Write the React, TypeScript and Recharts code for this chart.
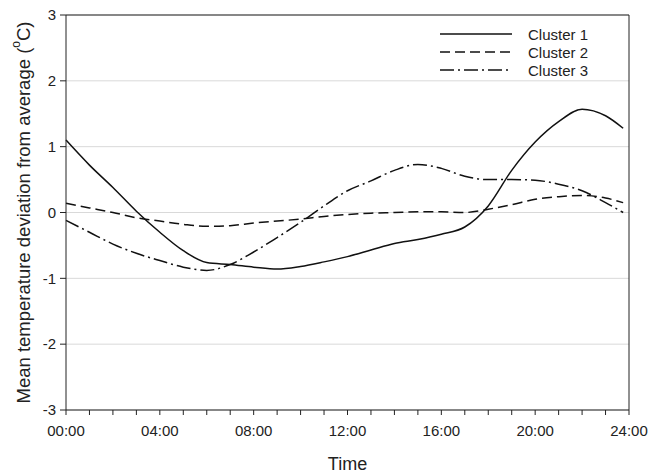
import {
  CartesianGrid,
  Legend,
  Line,
  LineChart,
  ReferenceLine,
  XAxis,
  YAxis,
} from "recharts";

const hours = [0, 1, 2, 3, 4, 5, 6, 7, 8, 9, 10, 11, 12, 13, 14, 15, 16, 17, 18, 19, 20, 21, 22, 23, 23.75];

const cluster1 = [
  1.1, 0.72, 0.38, 0.02, -0.3, -0.58, -0.76, -0.79, -0.83, -0.86, -0.82, -0.75, -0.67,
  -0.57, -0.47, -0.41, -0.33, -0.22, 0.1, 0.64, 1.07, 1.38, 1.57, 1.47, 1.28,
];
const cluster2 = [
  0.14, 0.07, 0.0, -0.08, -0.13, -0.18, -0.21, -0.2, -0.16, -0.13, -0.1, -0.06, -0.03,
  -0.01, 0.0, 0.01, 0.01, 0.0, 0.05, 0.12, 0.2, 0.24, 0.26, 0.22, 0.15,
];
const cluster3 = [
  -0.12, -0.3, -0.48, -0.62, -0.73, -0.83, -0.88, -0.79, -0.6, -0.38, -0.15, 0.1, 0.33,
  0.48, 0.64, 0.73, 0.67, 0.55, 0.5, 0.5, 0.49, 0.43, 0.33, 0.15, 0.0,
];

const xTicks = [0, 1, 2, 3, 4, 5, 6, 7, 8, 9, 10, 11, 12, 13, 14, 15, 16, 17, 18, 19, 20, 21, 22, 23, 24];
const yTicks = [-3, -2, -1, 0, 1, 2, 3];

const seriesNames = ["Cluster 1", "Cluster 2", "Cluster 3"];
const dashes = [undefined, "10 5", "14 4 2 4"];

const data = hours.map((h, i) => ({
  h,
  c1: cluster1[i],
  c2: cluster2[i],
  c3: cluster3[i],
}));

const font = "'Liberation Sans', Arial, sans-serif";

function fmtHour(h: number) {
  if (h % 4 !== 0) return "";
  return `${String(h).padStart(2, "0")}:00`;
}

function YLabel({ viewBox }: any) {
  const cx = viewBox.x + 23;
  const cy = viewBox.y + viewBox.height / 2;
  return (
    <text
      x={cx}
      y={cy}
      transform={`rotate(-90, ${cx}, ${cy})`}
      textAnchor="middle"
      dominantBaseline="central"
      fontSize={18.5}
      fill="#222"
      fontFamily={font}
    >
      Mean temperature deviation from average (
      <tspan dy={-7} fontSize={12}>o</tspan>
      <tspan dy={7}>C)</tspan>
    </text>
  );
}

// legend drawn in a zero-size wrapper so the chart doesn't reserve space for it
function LegendBox() {
  return (
    <svg width={170} height={56} style={{ display: "block", overflow: "visible" }}>
      {seriesNames.map((name, i) => (
        <g key={name}>
          <line
            x1={0}
            x2={72}
            y1={9 + i * 18}
            y2={9 + i * 18}
            stroke="#111"
            strokeWidth={1.5}
            strokeDasharray={dashes[i]}
          />
          <text
            x={88}
            y={9 + i * 18}
            dominantBaseline="central"
            fontSize={15}
            fill="#222"
            fontFamily={font}
          >
            {name}
          </text>
        </g>
      ))}
    </svg>
  );
}

export default function App() {
  return (
    <div style={{ position: "absolute", left: 0, top: 0, background: "#fff" }}>
      <LineChart
        width={654}
        height={476}
        data={data}
        margin={{ top: 15, right: 25, left: 0, bottom: 0 }}
      >
        <CartesianGrid horizontal vertical={false} stroke="#d9d9d9" />
        <XAxis
          dataKey="h"
          type="number"
          domain={[0, 24]}
          ticks={xTicks}
          interval={0}
          tickFormatter={fmtHour}
          height={66}
          tickSize={5}
          tickMargin={10}
          stroke="#222"
          tick={{ fontSize: 15, fill: "#222", fontFamily: font }}
          label={{
            value: "Time",
            position: "insideBottom",
            offset: 6,
            fontSize: 18,
            fill: "#222",
            fontFamily: font,
          }}
        />
        <YAxis
          type="number"
          domain={[-3, 3]}
          ticks={yTicks}
          width={66}
          tickSize={6}
          tickMargin={4}
          stroke="#222"
          tick={{ fontSize: 15, fill: "#222", fontFamily: font }}
          label={<YLabel />}
        />
        <ReferenceLine y={3} stroke="#222" />
        <ReferenceLine x={24} stroke="#222" />
        <Legend
          content={() => <LegendBox />}
          wrapperStyle={{
            position: "absolute",
            left: 440,
            top: 25,
            width: 0,
            height: 0,
            overflow: "visible",
          }}
        />
        <Line
          type="monotone"
          dataKey="c1"
          name={seriesNames[0]}
          stroke="#111"
          strokeWidth={1.5}
          dot={false}
          isAnimationActive={false}
        />
        <Line
          type="monotone"
          dataKey="c2"
          name={seriesNames[1]}
          stroke="#111"
          strokeWidth={1.5}
          strokeDasharray={dashes[1]}
          dot={false}
          isAnimationActive={false}
        />
        <Line
          type="monotone"
          dataKey="c3"
          name={seriesNames[2]}
          stroke="#111"
          strokeWidth={1.5}
          strokeDasharray={dashes[2]}
          dot={false}
          isAnimationActive={false}
        />
      </LineChart>
    </div>
  );
}
